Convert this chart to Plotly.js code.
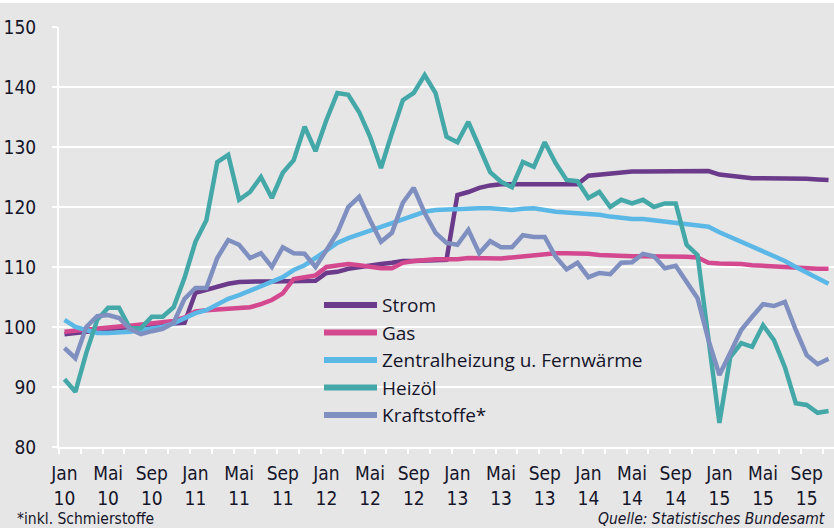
<!DOCTYPE html>
<html><head><meta charset="utf-8">
<script src="https://cdn.plot.ly/plotly-3.0.1.min.js"></script>
<style>
html,body{margin:0;padding:0;background:#e6e6e6;}
#strip{height:3px;background:#ffffff;width:834px;}
#chart{width:834px;height:525px;}
</style></head>
<body><div id="strip"></div><div id="chart"></div>
<script>
// Monthly index values, Jan 2010 .. Nov 2015
const strom = [98.8, 99.0, 99.3, 99.5, 99.7, 99.9, 100.0, 100.2, 100.4, 100.5, 100.6, 100.7,
  105.7, 106.2, 106.7, 107.2, 107.5, 107.6, 107.6, 107.6, 107.6, 107.6, 107.7, 107.7,
  109.0, 109.2, 109.7, 110.0, 110.3, 110.5, 110.7, 111.0, 111.0, 111.1, 111.2, 111.2,
  122.0, 122.5, 123.2, 123.6, 123.8, 123.8, 123.8, 123.8, 123.9, 123.9, 123.8, 123.8,
  125.2, 125.4, 125.5, 125.8, 125.9, 125.9, 125.9, 125.9, 125.9, 126.0, 126.0, 126.0,
  125.4, 125.2, 125.0, 124.8, 124.8, 124.8, 124.7, 124.7, 124.7, 124.6, 124.5];
const gas = [99.2, 99.4, 99.6, 99.8, 100.0, 100.1, 100.2, 100.4, 100.6, 100.8, 101.0, 101.6,
  102.6, 102.8, 102.9, 103.0, 103.2, 103.3, 103.8, 104.5, 105.6, 108.0, 108.3, 108.6,
  110.0, 110.3, 110.5, 110.3, 110.0, 109.8, 109.8, 110.7, 111.0, 111.2, 111.3, 111.3,
  111.3, 111.5, 111.5, 111.5, 111.4, 111.6, 111.8, 112.0, 112.2, 112.3, 112.3, 112.3,
  112.2, 112.0, 111.9, 111.8, 111.8, 111.8, 111.8, 111.8, 111.8, 111.7, 111.6, 110.7,
  110.6, 110.6, 110.5, 110.3, 110.2, 110.1, 110.0, 109.8, 109.7, 109.7, 109.7];
const zentral = [101.2, 100.0, 99.5, 99.0, 99.0, 99.1, 99.2, 99.5, 99.8, 100.0, 100.6, 101.5,
  102.3, 102.8, 103.7, 104.7, 105.3, 106.0, 106.7, 107.5, 108.3, 109.5, 110.3, 111.5,
  112.8, 114.0, 114.8, 115.5, 116.2, 116.7, 117.3, 118.0, 118.7, 119.2, 119.5, 119.6,
  119.7, 119.8, 119.8, 119.8, 119.7, 119.5, 119.7, 119.8, 119.5, 119.2, 119.1, 119.0,
  118.8, 118.7, 118.4, 118.2, 118.0, 118.0, 117.8, 117.5, 117.3, 117.2, 117.0, 116.7,
  115.8, 115.0, 114.2, 113.3, 112.7, 111.8, 111.0, 110.0, 109.0, 108.0, 107.2];
const heizoel = [91.3, 89.2, 95.7, 101.2, 103.2, 103.2, 99.8, 99.8, 101.7, 101.7, 103.3, 108.2,
  114.2, 117.8, 127.5, 128.7, 121.2, 122.5, 125.0, 121.5, 125.7, 127.8, 133.4, 129.3,
  134.5, 139.0, 138.7, 135.8, 131.7, 126.5, 132.3, 137.8, 139.0, 142.0, 139.0, 131.7,
  130.8, 134.2, 130.0, 125.8, 124.2, 123.3, 127.5, 126.7, 130.8, 127.3, 124.5, 124.3,
  121.5, 122.5, 120.0, 121.2, 120.6, 121.2, 120.0, 120.6, 120.6, 113.7, 112.0, 98.0,
  84.0, 95.0, 97.3, 96.7, 100.3, 97.8, 93.3, 87.3, 87.0, 85.7, 86.0];
const kraftstoffe = [96.5, 94.8, 100.0, 101.8, 102.0, 101.5, 99.7, 98.8, 99.3, 99.7, 100.7, 104.7,
  106.5, 106.5, 111.5, 114.5, 113.7, 111.5, 112.3, 110.0, 113.3, 112.3, 112.2, 110.0,
  112.8, 115.7, 120.0, 121.7, 117.8, 114.2, 115.7, 120.7, 123.2, 119.0, 115.7, 114.0,
  113.7, 116.2, 112.3, 114.3, 113.3, 113.3, 115.3, 115.0, 115.0, 111.7, 109.6, 110.7,
  108.3, 109.0, 108.8, 110.7, 110.8, 112.2, 111.8, 109.8, 110.2, 107.5, 104.8, 97.8,
  92.0, 95.7, 99.5, 101.7, 103.8, 103.5, 104.2, 99.5, 95.3, 93.8, 94.7];

const seriesNames = ['Strom', 'Gas', 'Zentralheizung u. Fernwärme', 'Heizöl', 'Kraftstoffe*'];
const seriesColors = ['#6b3a8a', '#d4488f', '#5bb8e6', '#44a8a9', '#7f8fc0'];
const tickPositions = [0, 4, 8, 12, 16, 20, 24, 28, 32, 36, 40, 44, 48, 52, 56, 60, 64, 68];
const tickLabels = ['Jan<br>10','Mai<br>10','Sep<br>10','Jan<br>11','Mai<br>11','Sep<br>11',
  'Jan<br>12','Mai<br>12','Sep<br>12','Jan<br>13','Mai<br>13','Sep<br>13',
  'Jan<br>14','Mai<br>14','Sep<br>14','Jan<br>15','Mai<br>15','Sep<br>15'];
const footnote = '*inkl. Schmierstoffe';
const source = 'Quelle: Statistisches Bundesamt';

const allSeries = [strom, gas, zentral, heizoel, kraftstoffe];
const xIdx = strom.map((_, i) => i);

const traces = allSeries.map((ys, k) => ({
  x: xIdx, y: ys, type: 'scatter', mode: 'lines', name: seriesNames[k],
  line: {color: seriesColors[k], width: 4.5, shape: 'linear'},
  hoverinfo: 'skip', showlegend: false
}));

// custom legend (paper coordinates)
const L = 59, W = 775, B = 447, H = 420;
const px = v => (v - L) / W;
const py = v => (B - v) / H;
const shapes = [{
  type: 'rect', xref: 'paper', yref: 'paper', layer: 'between',
  x0: px(316), x1: px(680), y0: py(436), y1: py(286),
  fillcolor: '#e6e6e6', line: {width: 0}
}];
const annotations = [];
const rowY = [305, 332.5, 360, 387.5, 415];
seriesNames.forEach((n, k) => {
  shapes.push({type: 'line', xref: 'paper', yref: 'paper', layer: 'above',
    x0: px(324), x1: px(377), y0: py(rowY[k]), y1: py(rowY[k]),
    line: {color: seriesColors[k], width: 6}});
  annotations.push({xref: 'paper', yref: 'paper', x: px(380), y: py(rowY[k]),
    xanchor: 'left', yanchor: 'middle', showarrow: false, text: n,
    font: {family: 'Open Sans, sans-serif', size: 19, color: '#15152a'}});
});
const noteFont = {family: 'Liberation Sans Narrow, DejaVu Sans Condensed, sans-serif', size: 15.5, color: '#15152a'};
annotations.push({xref: 'paper', yref: 'paper', x: px(15), y: py(519), xanchor: 'left',
  yanchor: 'middle', showarrow: false, text: footnote, font: noteFont});
annotations.push({xref: 'paper', yref: 'paper', x: px(827), y: py(519), xanchor: 'right',
  yanchor: 'middle', showarrow: false, text: '<i>' + source + '</i>', font: noteFont});

const tickFont = {family: 'Liberation Sans Narrow, DejaVu Sans Condensed, sans-serif', size: 19, color: '#15152a'};

const layout = {
  width: 834, height: 525,
  margin: {l: 59, r: 0, t: 24, b: 81, pad: 0},
  paper_bgcolor: '#e6e6e6', plot_bgcolor: '#e6e6e6',
  showlegend: false,
  xaxis: {
    range: [-0.5, 70.5], tickmode: 'array', tickvals: tickPositions, ticktext: tickLabels,
    ticks: '', showgrid: false, zeroline: false, showline: true, linecolor: '#ffffff', linewidth: 2,
    tickfont: tickFont, ticklabelstandoff: 8,
    minor: {tickmode: 'linear', tick0: -0.5, dtick: 2, ticks: 'outside', ticklen: 5,
      tickcolor: '#ffffff', tickwidth: 2, showgrid: false}
  },
  yaxis: {
    range: [80, 150], tickmode: 'linear', tick0: 80, dtick: 10,
    showgrid: true, gridcolor: '#ffffff', gridwidth: 2, zeroline: false,
    showline: true, linecolor: '#ffffff', linewidth: 2,
    ticks: 'outside', ticklen: 5, tickcolor: '#ffffff', tickwidth: 2,
    tickfont: tickFont, ticklabelstandoff: 12
  },
  shapes: shapes, annotations: annotations
};

Plotly.newPlot('chart', traces, layout, {displayModeBar: false, staticPlot: true});
</script></body></html>
